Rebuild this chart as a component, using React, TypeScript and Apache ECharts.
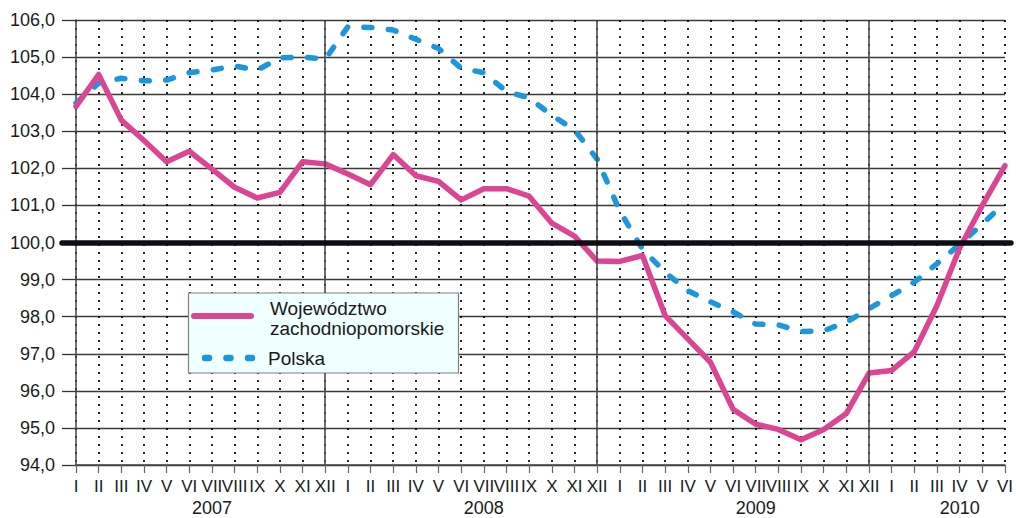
import React, { useEffect, useRef } from "react";
import * as echarts from "echarts";

const months = ["I", "II", "III", "IV", "V", "VI", "VII", "VIII", "IX", "X", "XI", "XII"];
const years = ["2007", "2008", "2009", "2010"];
const monthsInYear = [12, 12, 12, 6];

const zachodniopomorskie = [
  103.67, 104.53, 103.3, 102.75, 102.18, 102.46, 101.98, 101.49, 101.2, 101.35, 102.18, 102.12,
  101.85, 101.56, 102.37, 101.8, 101.65, 101.15, 101.45, 101.45, 101.25, 100.52, 100.17, 99.5,
  99.49, 99.65, 98.03, 97.4, 96.77, 95.5, 95.1, 94.96, 94.68, 94.96, 95.39, 96.48,
  96.55, 97.06, 98.3, 99.85, 101.0, 102.07,
];

const polska = [
  103.76, 104.3, 104.43, 104.36, 104.38, 104.58, 104.65, 104.76, 104.65, 104.98, 105.0, 104.94,
  105.82, 105.8, 105.73, 105.48, 105.23, 104.7, 104.58, 104.07, 103.9, 103.43, 103.04, 102.25,
  100.85, 99.82, 99.2, 98.7, 98.4, 98.13, 97.8, 97.78, 97.6, 97.62, 97.85, 98.22,
  98.57, 98.93, 99.43, 99.95, 100.5, 101.07,
];

const yTicks = { min: 94, max: 106, step: 1 };
const referenceValue = 100;
const seriesNames = ["Województwo\nzachodniopomorskie", "Polska"];

const FONT = "'Liberation Sans', Arial, Helvetica, sans-serif";
const PINK = "#DC4494";
const BLUE = "#1E96DC";

// categories built from years / months
const categories: string[] = [];
const monthLabels: string[] = [];
const yearLabels: string[] = [];
const yearEndIndices: number[] = [];
years.forEach((y, yi) => {
  const start = categories.length;
  for (let m = 0; m < monthsInYear[yi]; m++) {
    categories.push(months[m] + " " + y);
    monthLabels.push(months[m]);
    yearLabels.push("");
  }
  yearLabels[start + Math.floor(monthsInYear[yi] / 2)] = y;
  if (monthsInYear[yi] === 12) yearEndIndices.push(start + 11);
});

export default function App() {
  const ref = useRef<HTMLDivElement>(null);
  useEffect(() => {
    if (!ref.current) return;
    const chart = echarts.init(ref.current, null, { renderer: "svg" });
    const gridLeft = 76;
    const gridRight = 6;
    const width = 1016;
    chart.setOption({
      animation: false,
      backgroundColor: "#ffffff",
      textStyle: { fontFamily: FONT },
      grid: { left: gridLeft, right: gridRight, top: 20, bottom: 53, show: false },
      xAxis: [
        {
          type: "category",
          data: categories,
          boundaryGap: false,
          axisLine: { show: true, lineStyle: { color: "#444", width: 1.5 } },
          axisTick: { show: true, interval: 0, length: 8, lineStyle: { color: "#666", width: 1.2 } },
          axisLabel: {
            interval: 0,
            margin: 13,
            fontSize: 17,
            color: "#1a1a1a",
            fontFamily: FONT,
            formatter: (_v: string, i: number) => monthLabels[i],
          },
          splitLine: { show: true, interval: 0, lineStyle: { type: [2, 6], color: "#000", width: 1.7 } },
        },
        {
          type: "category",
          data: categories,
          boundaryGap: false,
          position: "bottom",
          axisLine: { show: false },
          axisTick: { show: false },
          splitLine: { show: false },
          axisLabel: {
            interval: 0,
            margin: 34,
            fontSize: 18,
            color: "#1a1a1a",
            fontFamily: FONT,
            formatter: (_v: string, i: number) => yearLabels[i],
          },
        },
      ],
      yAxis: {
        type: "value",
        min: yTicks.min,
        max: yTicks.max,
        interval: yTicks.step,
        axisLine: { show: true, lineStyle: { color: "#444", width: 1.5 } },
        axisTick: { show: true, length: 14, lineStyle: { color: "#333", width: 1.3 } },
        axisLabel: {
          margin: 21,
          fontSize: 18,
          color: "#1a1a1a",
          fontFamily: FONT,
          formatter: (v: number) => v.toFixed(1).replace(".", ","),
        },
        splitLine: { show: true, lineStyle: { color: "#3a3a3a", width: 1.3 } },
      },
      series: [
        {
          type: "line",
          name: "ref",
          data: [],
          silent: true,
          markLine: {
            silent: true,
            symbol: ["none", "none"],
            label: { show: false },
            animation: false,
            data: [
              ...yearEndIndices.map((i) => ({ xAxis: i, lineStyle: { color: "#4a4a4a", width: 1.6, type: "solid" } })),
              [
                { x: gridLeft - 14, yAxis: referenceValue, lineStyle: { color: "#0d0d14", width: 5.5, type: "solid", cap: "round" } },
                { x: width - gridRight + 1, yAxis: referenceValue },
              ],
            ],
          },
        },
        {
          type: "line",
          name: seriesNames[1],
          data: polska,
          symbol: "none",
          lineStyle: { color: BLUE, width: 5.5, type: [8, 16.5], cap: "round", join: "round" },
        },
        {
          type: "line",
          name: seriesNames[0],
          data: zachodniopomorskie,
          symbol: "none",
          lineStyle: { color: PINK, width: 5.5, cap: "round", join: "round" },
        },
      ],
      graphic: [
        {
          type: "group",
          children: [
            {
              type: "rect",
              shape: { x: 188.5, y: 293, width: 270, height: 80 },
              style: { fill: "#F0FFFF", stroke: "#808080", lineWidth: 1.2 },
              z: 10,
            },
            {
              type: "line",
              shape: { x1: 194, y1: 316, x2: 251, y2: 316 },
              style: { stroke: PINK, lineWidth: 6, lineCap: "round" },
              z: 11,
            },
            {
              type: "text",
              x: 270,
              y: 318.5,
              style: {
                text: seriesNames[0],
                font: "19px " + FONT,
                fill: "#1a1a1a",
                lineHeight: 20.5,
                verticalAlign: "middle",
                align: "left",
              },
              z: 11,
            },
            {
              type: "line",
              shape: { x1: 205, y1: 358, x2: 252, y2: 358 },
              style: { stroke: BLUE, lineWidth: 6.5, lineCap: "round", lineDash: [4, 17.5] },
              z: 11,
            },
            {
              type: "text",
              x: 268,
              y: 358,
              style: {
                text: seriesNames[1],
                font: "19px " + FONT,
                fill: "#1a1a1a",
                verticalAlign: "middle",
                align: "left",
              },
              z: 11,
            },
          ],
        },
      ],
    });
    return () => chart.dispose();
  }, []);
  return (
    <div
      ref={ref}
      style={{ position: "fixed", left: 0, top: 0, width: 1016, height: 518, background: "#fff" }}
    />
  );
}
